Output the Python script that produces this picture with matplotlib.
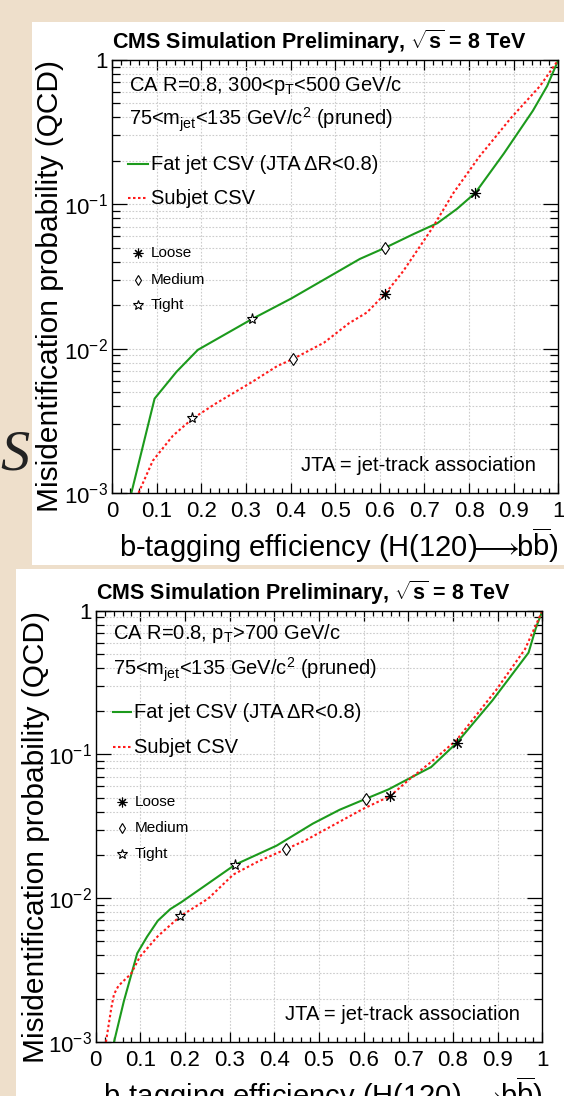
import matplotlib
matplotlib.use("Agg")
import matplotlib.pyplot as plt
from matplotlib.patches import Rectangle
from matplotlib.lines import Line2D
from matplotlib.ticker import FixedLocator, FixedFormatter, LogLocator, NullFormatter

plt.rcParams['font.family'] = ['Liberation Sans', 'DejaVu Sans']
plt.rcParams['mathtext.fontset'] = 'custom'
plt.rcParams['mathtext.rm'] = 'Liberation Sans'
plt.rcParams['mathtext.it'] = 'Liberation Sans:italic'
plt.rcParams['mathtext.bf'] = 'Liberation Sans:bold'

# ---- data ----
# top panel: 300 < pT < 500 GeV/c
eff_fat_top = [0.043, 0.095, 0.144, 0.192, 0.313, 0.402, 0.555, 0.612, 0.676, 0.729, 0.773, 0.814, 0.878, 0.943, 0.975, 1.0]
mis_fat_top = [1.0e-3, 4.5e-3, 6.9e-3, 9.8e-3, 0.016, 0.0223, 0.0418, 0.050, 0.0623, 0.074, 0.093, 0.12, 0.225, 0.445, 0.66, 1.0]
eff_sub_top = [0.059, 0.091, 0.136, 0.180, 0.232, 0.313, 0.370, 0.406, 0.475, 0.531, 0.571, 0.612, 0.652, 0.717, 0.765, 0.822, 0.894, 0.959, 1.0]
mis_sub_top = [1.0e-3, 1.67e-3, 2.49e-3, 3.27e-3, 4.16e-3, 5.86e-3, 7.57e-3, 8.5e-3, 0.011, 0.015, 0.0178, 0.024, 0.0343, 0.068, 0.12, 0.212, 0.397, 0.66, 1.0]
# working points (loose, medium, tight)
wp_fat_top_eff = [0.814, 0.612, 0.313]
wp_fat_top_mis = [0.12, 0.050, 0.016]
wp_sub_top_eff = [0.612, 0.406, 0.180]
wp_sub_top_mis = [0.024, 0.0085, 0.0033]

# bottom panel: pT > 700 GeV/c
eff_fat_bot = [0.041, 0.063, 0.093, 0.115, 0.139, 0.167, 0.192, 0.236, 0.312, 0.405, 0.486, 0.546, 0.606, 0.655, 0.711, 0.751, 0.808, 0.888, 0.969, 0.985, 1.0]
mis_fat_bot = [1.0e-3, 1.92e-3, 4.14e-3, 5.4e-3, 6.97e-3, 8.4e-3, 9.4e-3, 0.0117, 0.0171, 0.0232, 0.033, 0.0412, 0.0493, 0.057, 0.0704, 0.0817, 0.12, 0.237, 0.51, 0.75, 1.0]
eff_sub_bot = [0.023, 0.035, 0.041, 0.051, 0.079, 0.099, 0.139, 0.189, 0.252, 0.308, 0.365, 0.427, 0.469, 0.518, 0.598, 0.659, 0.703, 0.751, 0.808, 0.896, 0.961, 1.0]
mis_sub_bot = [1.0e-3, 1.73e-3, 2.15e-3, 2.46e-3, 2.98e-3, 3.92e-3, 5.44e-3, 7.48e-3, 9.94e-3, 0.0146, 0.0181, 0.022, 0.0252, 0.0305, 0.0417, 0.0513, 0.0674, 0.0886, 0.126, 0.279, 0.539, 1.0]
wp_fat_bot_eff = [0.808, 0.606, 0.312]
wp_fat_bot_mis = [0.12, 0.049, 0.017]
wp_sub_bot_eff = [0.659, 0.427, 0.189]
wp_sub_bot_mis = [0.051, 0.022, 0.0075]

wp_names = ['Loose', 'Medium', 'Tight']
x_ticks = [0, 0.1, 0.2, 0.3, 0.4, 0.5, 0.6, 0.7, 0.8, 0.9, 1]
x_tick_labels = ['0', '0.1', '0.2', '0.3', '0.4', '0.5', '0.6', '0.7', '0.8', '0.9', '1']
y_ticks = [1e-3, 1e-2, 1e-1, 1]
y_tick_labels = ['$10^{-3}$', '$10^{-2}$', '$10^{-1}$', '1']

GREEN = '#1c9a1c'
RED = '#ff1a1a'
W, H = 564, 1096

fig = plt.figure(figsize=(W / 100, H / 100), dpi=100)
fig.patch.set_facecolor('#eedfcb')


def fx(x):
    return x / W


def fy(y):
    return 1 - y / H


# the slide background: cursive letter and two white panels
fig.text(fx(15), fy(455), 'S', fontsize=42, family='Liberation Serif', style='italic',
         ha='center', va='center', color='#222222', zorder=-3)
fig.patches.append(Rectangle((fx(32), fy(565)), 1, fy(22) - fy(565), transform=fig.transFigure,
                             facecolor='white', edgecolor='none', zorder=-2))
fig.patches.append(Rectangle((fx(16), 0), 1, fy(569), transform=fig.transFigure,
                             facecolor='white', edgecolor='none', zorder=-2))

wp_markers = [(8, 2, 0), 'd', '*']
wp_sizes = [8, 6, 8]


def panel(box, fat_e, fat_m, sub_e, sub_m, fe, fm, se, sm, lines, offs):
    l, t, r, b = box
    ax = fig.add_axes([fx(l), fy(b), fx(r - l), fy(t) - fy(b)])
    ax.set_yscale('log')
    ax.set_xlim(0, 1)
    ax.set_ylim(1e-3, 1)
    ax.plot(fat_e, fat_m, color=GREEN, lw=1.5)
    ax.plot(sub_e, sub_m, color=RED, lw=1.5, ls=(0, (1.2, 1.2)))
    for i in range(3):
        kw = dict(color='black', ms=wp_sizes[i], ls='none')
        if i == 0:
            ax.plot(fe[i], fm[i], marker=wp_markers[i], mew=0.8, **kw)
            ax.plot(se[i], sm[i], marker=wp_markers[i], mew=0.8, **kw)
        else:
            ax.plot(fe[i], fm[i], marker=wp_markers[i], mfc='white', mec='black', mew=0.8, **kw)
            ax.plot(se[i], sm[i], marker=wp_markers[i], mfc='white', mec='black', mew=0.8, **kw)

    ax.xaxis.set_major_locator(FixedLocator(x_ticks))
    ax.xaxis.set_major_formatter(FixedFormatter(x_tick_labels))
    ax.xaxis.set_minor_locator(FixedLocator([k * 0.02 for k in range(51)]))
    ax.yaxis.set_major_locator(FixedLocator(y_ticks))
    ax.yaxis.set_major_formatter(FixedFormatter(y_tick_labels))
    ax.yaxis.set_minor_locator(LogLocator(base=10, subs=[2, 3, 4, 5, 6, 7, 8, 9]))
    ax.yaxis.set_minor_formatter(NullFormatter())
    ax.tick_params(which='both', direction='in', top=True, right=True, width=0.9, labelsize=16)
    ax.tick_params(axis='x', which='major', length=7, pad=6)
    ax.tick_params(axis='x', which='minor', length=3.5)
    ax.tick_params(axis='y', which='major', length=11, pad=3)
    ax.tick_params(axis='y', which='minor', length=5.5)
    ax.grid(which='major', axis='x', ls=(0, (1.5, 1.5)), color='#cccccc', lw=0.8)
    ax.grid(which='both', axis='y', ls=(0, (1.5, 1.5)), color='#cccccc', lw=0.8)
    for s in ax.spines.values():
        s.set_linewidth(1.0)

    # texts in figure pixels
    title_y, fat_y, sub_y, wp_y, jta_y, xl_y, yl_x = lines
    mk_x, leg_x0, leg_x1, leg_tx, jta_x = offs
    fig.text(fx(l), fy(title_y), r'CMS Simulation Preliminary, $\mathbf{\sqrt{s}}$ = 8 TeV',
             fontsize=15.5, weight='bold', ha='left', va='center')
    fig.text(fx(leg_x1), fy(fat_y), 'Fat jet CSV (JTA \u0394R<0.8)', fontsize=14.5, va='center')
    fig.text(fx(leg_x1), fy(sub_y), 'Subjet CSV', fontsize=14.5, va='center')
    fig.add_artist(Line2D([fx(leg_x0), fx(leg_x1 - 3)], [fy(fat_y), fy(fat_y)], color=GREEN, lw=1.5))
    fig.add_artist(Line2D([fx(leg_x0), fx(leg_x1 - 3)], [fy(sub_y), fy(sub_y)], color=RED, lw=1.5,
                          ls=(0, (1.2, 1.2))))
    for i in range(3):
        if i == 0:
            fig.add_artist(Line2D([fx(mk_x)], [fy(wp_y[i])], marker=wp_markers[i], color='black',
                                  ms=wp_sizes[i] - 1, mew=0.8, ls='none'))
        else:
            fig.add_artist(Line2D([fx(mk_x)], [fy(wp_y[i])], marker=wp_markers[i], color='black',
                                  mfc='white', ms=wp_sizes[i] - 1, mew=0.8, ls='none'))
        fig.text(fx(leg_tx), fy(wp_y[i]), wp_names[i], fontsize=11, va='center')
    fig.text(fx(jta_x), fy(jta_y), 'JTA = jet-track association', fontsize=14.5, ha='right', va='center')
    fig.text(fx(r), fy(xl_y), r'b-tagging efficiency (H(120)$\!\!\longrightarrow\!\!$b$\overline{\mathrm{b}}$)',
             fontsize=21, ha='right', va='center')
    fig.text(fx(yl_x), fy(t), 'Misidentification probability (QCD)', fontsize=21.5, rotation=90,
             ha='center', va='top')
    return ax


ax1 = panel((112.2, 60, 558.3, 492.9), eff_fat_top, mis_fat_top, eff_sub_top, mis_sub_top,
            wp_fat_top_eff, wp_fat_top_mis, wp_sub_top_eff, wp_sub_top_mis,
            (42, 164.3, 198.2, [253, 279.6, 305.4], 465.4, 545, 50.4),
            (138, 128, 151, 151, 536))
fig.text(fx(129), fy(85.7), r'CA R=0.8, 300<p$_\mathrm{T}$<500 GeV/c', fontsize=14.5, va='center')
fig.text(fx(129), fy(119.6), r'75<m$_\mathrm{jet}$<135 GeV/c$^2$ (pruned)', fontsize=14.5, va='center')

ax2 = panel((95.7, 610.6, 542.4, 1042), eff_fat_bot, mis_fat_bot, eff_sub_bot, mis_sub_bot,
            wp_fat_bot_eff, wp_fat_bot_mis, wp_sub_bot_eff, wp_sub_bot_mis,
            (592.5, 712.1, 747.4, [802, 828.4, 854], 1014.7, 1094, 36),
            (121.6, 112.6, 134, 135, 520))
fig.text(fx(112.6), fy(633.5), r'CA R=0.8, p$_\mathrm{T}$>700 GeV/c', fontsize=14.5, va='center')
fig.text(fx(112.6), fy(669.4), r'75<m$_\mathrm{jet}$<135 GeV/c$^2$ (pruned)', fontsize=14.5, va='center')

fig.savefig('out.png', dpi=100, facecolor=fig.get_facecolor())
